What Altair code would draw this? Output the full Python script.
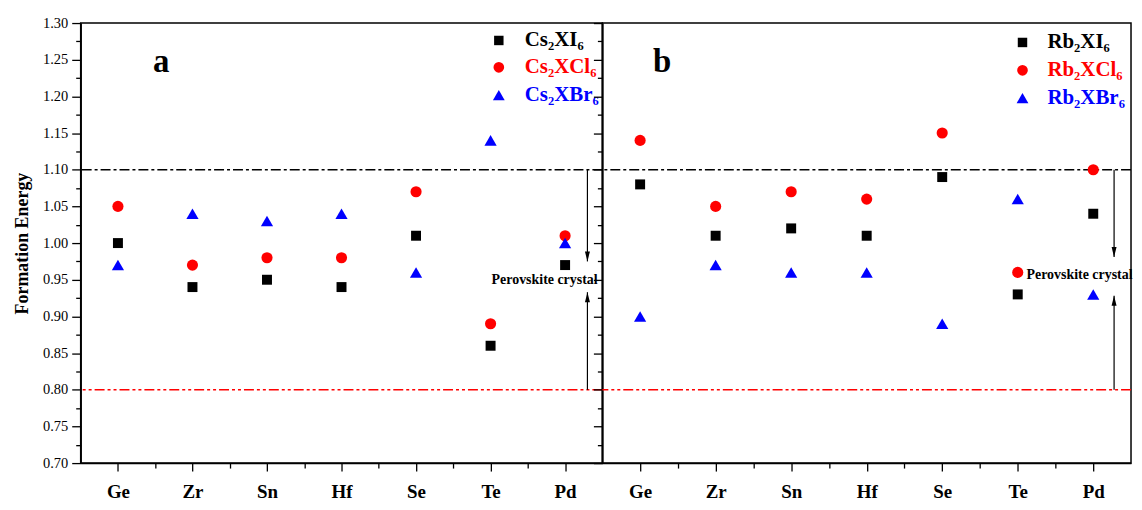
import altair as alt
import pandas as pd

# ---------------- data ----------------
cats = ["Ge", "Zr", "Sn", "Hf", "Se", "Te", "Pd"]
series = ["I", "Cl", "Br"]

cs_I = [1.00, 0.94, 0.95, 0.94, 1.01, 0.86, 0.97]
cs_Cl = [1.05, 0.97, 0.98, 0.98, 1.07, 0.89, 1.01]
cs_Br = [0.97, 1.04, 1.03, 1.04, 0.96, 1.14, 1.00]

rb_I = [1.08, 1.01, 1.02, 1.01, 1.09, 0.93, 1.04]
rb_Cl = [1.14, 1.05, 1.07, 1.06, 1.15, 0.96, 1.10]
rb_Br = [0.90, 0.97, 0.96, 0.96, 0.89, 1.06, 0.93]

cs_names = ["Cs₂XI₆", "Cs₂XCl₆", "Cs₂XBr₆"]
rb_names = ["Rb₂XI₆", "Rb₂XCl₆", "Rb₂XBr₆"]

upper_limit = 1.10
lower_limit = 0.80
annotation = "Perovskite crystal"

colors = ["#000000", "#ff0000", "#0000ff"]
shapes = ["square", "circle", "triangle-up"]
sizes = [100, 125, 150]

FONT = "Liberation Serif"


def make_df(vals):
    rows = []
    for s, v in zip(series, vals):
        for i, (c, val) in enumerate(zip(cats, v)):
            rows.append({"idx": i + 1, "cat": c, "series": s, "value": val})
    return pd.DataFrame(rows)


one = pd.DataFrame({"k": [0]})
cats_js = "[" + ",".join(f"'{c}'" for c in cats) + "]"
x_vals = [1 + 0.5 * i for i in range(13)]
y_vals = [round(0.70 + 0.025 * i, 3) for i in range(25)]

x_scale = alt.Scale(domain=[0.5, 7.5], nice=False, zero=False)
y_scale = alt.Scale(domain=[0.70, 1.30], nice=False, zero=False)


def panel(df, names, letter, show_y, W, cfg):
    x_axis = alt.Axis(
        values=x_vals,
        labelExpr=f"datum.value % 1 == 0 ? {cats_js}[datum.value-1] : ''",
        tickSize={"condition": {"test": "datum.value % 1 == 0", "value": 8}, "value": 5},
        labelFontSize=19, labelFontWeight="bold", labelPadding=12, labelFont=FONT,
        labelColor="black", title=None, grid=False, domainWidth=1.5, domainColor="black",
        tickWidth=1.3, tickColor="black", labelFlush=False,
    )
    y_axis = alt.Axis(
        values=y_vals,
        labelExpr="round(datum.value*1000) % 50 == 0 ? format(datum.value, '.2f') : ''",
        tickSize={"condition": {"test": "round(datum.value*1000) % 50 == 0", "value": 9}, "value": 5},
        labels=show_y, labelFontSize=14.5, labelFont=FONT, labelColor="black", labelPadding=4,
        title="Formation Energy" if show_y else None, titleFont=FONT, titleFontSize=18,
        titleFontWeight="bold", titleColor="black", titlePadding=11,
        grid=False, domainWidth=1.5, domainColor="black", tickWidth=1.3, tickColor="black",
        labelFlush=False,
    )

    layers = []
    # threshold lines
    layers.append(
        alt.Chart(pd.DataFrame({"v": [upper_limit]})).mark_rule(
            color="black", strokeDash=[10, 3, 3, 3], strokeWidth=1.4
        ).encode(y=alt.Y("v:Q", scale=y_scale, axis=y_axis))
    )
    layers.append(
        alt.Chart(pd.DataFrame({"v": [lower_limit]})).mark_rule(
            color="#ff0000", strokeDash=[10, 3, 3, 3, 3, 3], strokeWidth=1.4
        ).encode(y=alt.Y("v:Q", scale=y_scale, axis=y_axis))
    )
    # arrows
    ax = cfg["arrow_x"]
    for start, tip, path in [
        (upper_limit, cfg["down_tip"], "M-0.5,-2L0.5,-2L0,0Z"),
        (lower_limit, cfg["up_tip"], "M-0.5,2L0.5,2L0,0Z"),
    ]:
        layers.append(
            alt.Chart(one).mark_rule(color="black", strokeWidth=1.2).encode(
                x=alt.value(ax), y=alt.YDatum(start, axis=y_axis, scale=y_scale), y2=alt.Y2Datum(tip)
            )
        )
        layers.append(
            alt.Chart(one).mark_point(shape=path, filled=True, color="black", size=100,
                                      opacity=1, strokeWidth=0).encode(
                x=alt.value(ax), y=alt.YDatum(tip, axis=y_axis, scale=y_scale)
            )
        )
    # annotation text
    layers.append(
        alt.Chart(one).mark_text(text=annotation, font=FONT, fontSize=14, fontWeight="bold",
                                 color="black", align=cfg["text_align"], baseline="middle").encode(
            x=alt.value(cfg["text_x"]), y=alt.value(cfg["text_y"])
        )
    )
    # data points
    for i, s in enumerate(series):
        sub = df[df["series"] == s]
        layers.append(
            alt.Chart(sub).mark_point(shape=shapes[i], filled=True, color=colors[i], size=sizes[i],
                                      opacity=1, strokeWidth=0).encode(
                x=alt.X("idx:Q", scale=x_scale, axis=x_axis),
                y=alt.Y("value:Q", scale=y_scale, axis=y_axis),
            )
        )
    # legend
    for i in range(3):
        ly = cfg["leg_y"][i]
        layers.append(
            alt.Chart(one).mark_point(shape=shapes[i], filled=True, color=colors[i],
                                      size=sizes[i] - 10, opacity=1, strokeWidth=0).encode(
                x=alt.value(cfg["leg_sym_x"]), y=alt.value(ly)
            )
        )
        layers.append(
            alt.Chart(one).mark_text(text=names[i], font=FONT, fontSize=21, fontWeight="bold",
                                     color=colors[i], align="left", baseline="middle").encode(
                x=alt.value(cfg["leg_txt_x"]), y=alt.value(ly)
            )
        )
    # panel letter
    layers.append(
        alt.Chart(one).mark_text(text=letter, font=FONT, fontSize=33, fontWeight="bold",
                                 color="black", align="center", baseline="middle").encode(
            x=alt.value(cfg["letter_x"]), y=alt.value(cfg["letter_y"])
        )
    )
    return alt.layer(*layers).properties(width=W, height=442)


left_cfg = dict(arrow_x=509, down_tip=0.975, up_tip=0.933, text_x=466, text_y=258,
                text_align="center", leg_y=[17.5, 44.5, 72.5], leg_sym_x=420, leg_txt_x=446,
                letter_x=81, letter_y=39)
right_cfg = dict(arrow_x=514, down_tip=0.981, up_tip=0.928, text_x=426, text_y=253,
                 text_align="left", leg_y=[19.5, 47.5, 75.5], leg_sym_x=422, leg_txt_x=447,
                 letter_x=60, letter_y=39)

left = panel(make_df([cs_I, cs_Cl, cs_Br]), cs_names, "a", True, 524, left_cfg)
right = panel(make_df([rb_I, rb_Cl, rb_Br]), rb_names, "b", False, 531, right_cfg)

chart = alt.hconcat(left, right, spacing=0, bounds="flush").properties(
    padding={"left": 4, "top": 5, "right": 0, "bottom": 5}
).configure(font=FONT, background="white").configure_view(stroke="black", strokeWidth=1.5)

chart.save("out.html", embed_options={"renderer": "svg", "actions": False})
